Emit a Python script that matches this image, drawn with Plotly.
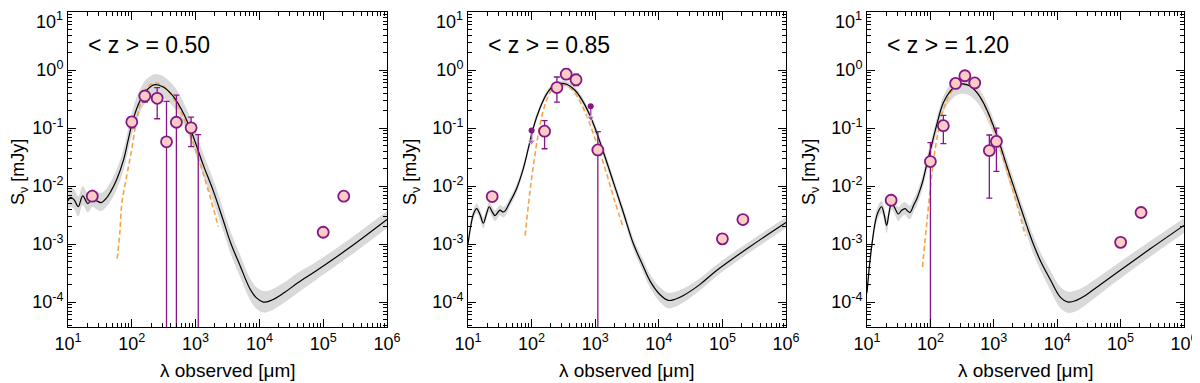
import math
import plotly.graph_objects as go
from plotly.subplots import make_subplots

# ---------------- panel 1 : <z> = 0.50 ----------------
sed1_lam = [10, 11, 12.5, 14.5, 17, 20.5, 24, 28, 33, 40, 46, 58, 74, 88, 106, 135, 171, 230, 310,
            450, 645, 920, 1320, 1900, 2700, 3600, 5000, 7100, 9000, 11500, 15000, 24000, 40000,
            79000, 260000, 1000000]
sed1 = [5.6e-3, 6.4e-3, 5.8e-3, 4.4e-3, 6.8e-3, 5.0e-3, 6.2e-3, 5.6e-3, 5.2e-3, 6.2e-3, 7.8e-3,
        1.3e-2, 2.8e-2, 6.3e-2, 0.147, 0.30, 0.45, 0.56, 0.51, 0.35, 0.18, 0.071, 0.023, 8.2e-3,
        2.6e-3, 1.0e-3, 4.2e-4, 1.7e-4, 1.18e-4, 1.0e-4, 1.06e-4, 1.43e-4, 2.15e-4, 3.5e-4, 8.7e-4,
        2.65e-3]
sed1_hi = [8.5e-3, 9.5e-3, 8.8e-3, 6.6e-3, 1.0e-2, 7.5e-3, 9.0e-3, 8.2e-3, 7.6e-3, 9.0e-3, 1.15e-2,
           1.95e-2, 4.3e-2, 9.6e-2, 0.23, 0.47, 0.70, 0.85, 0.78, 0.54, 0.28, 0.11, 0.036, 1.28e-2,
           4.0e-3, 1.55e-3, 6.5e-4, 2.6e-4, 1.8e-4, 1.55e-4, 1.62e-4, 2.15e-4, 3.2e-4, 5.0e-4,
           1.22e-3, 3.7e-3]
sed1_lo = [3.9e-3, 4.4e-3, 4.0e-3, 3.0e-3, 4.7e-3, 3.5e-3, 4.4e-3, 4.0e-3, 3.7e-3, 4.4e-3, 5.4e-3,
           8.8e-3, 1.85e-2, 4.1e-2, 0.095, 0.19, 0.29, 0.36, 0.33, 0.23, 0.118, 0.046, 0.015, 5.3e-3,
           1.7e-3, 6.5e-4, 2.7e-4, 1.1e-4, 7.7e-5, 6.6e-5, 7.0e-5, 9.6e-5, 1.45e-4, 2.45e-4, 6.2e-4,
           1.9e-3]
mbb1_lam = [59, 65, 70, 83, 99.5, 119, 148, 182, 231, 294, 398, 569, 813, 1172, 1683, 2270]
mbb1 = [5.6e-4, 1.6e-3, 5.1e-3, 0.0148, 0.042, 0.138, 0.35, 0.53, 0.60, 0.55, 0.40, 0.204, 0.081,
        0.025, 6.6e-3, 2.0e-3]
pts1_lam = [24, 100, 160, 250, 350, 500, 850, 1100, 100000, 210000]
pts1_flux = [6.7e-3, 0.128, 0.358, 0.326, 0.058, 0.126, 0.101, 1e-6, 1.6e-3, 6.7e-3]
pts1_up = [6.7e-3, 0.156, 0.43, 0.50, 0.29, 0.37, 0.155, 0.077, 1.6e-3, 6.7e-3]
pts1_dn = [6.7e-3, 0.101, 0.28, 0.145, 0.0, 0.0, 0.048, 0.0, 1.6e-3, 6.7e-3]
ul1_lam = []
ul1_flux = []
ul1_tip = []

# ---------------- panel 2 : <z> = 0.85 ----------------
sed2_lam = [10, 11, 12.3, 13.7, 15.5, 17.4, 19.5, 21.6, 24, 26.6, 31.8, 35, 38, 45.7, 58, 74, 89,
            106, 135, 173, 219, 280, 357, 481, 650, 933, 1340, 1930, 2770, 4000, 5500, 7300, 10400,
            14000, 18000, 24400, 44000, 81000, 270000, 1000000]
sed2 = [1.0e-3, 2.0e-3, 3.4e-3, 4.1e-3, 3.2e-3, 2.3e-3, 3.3e-3, 4.4e-3, 3.6e-3, 3.1e-3, 3.85e-3,
        3.6e-3, 3.7e-3, 5.3e-3, 9.0e-3, 0.020, 0.045, 0.10, 0.22, 0.39, 0.53, 0.59, 0.57, 0.45, 0.28,
        0.12, 0.039, 0.0117, 3.5e-3, 1.0e-3, 4.5e-4, 2.3e-4, 1.35e-4, 1.07e-4, 1.12e-4, 1.3e-4,
        2.0e-4, 3.5e-4, 9.0e-4, 2.35e-3]
sed2_hi = [1.2e-3, 2.5e-3, 4.1e-3, 5.0e-3, 3.9e-3, 2.9e-3, 4.0e-3, 5.3e-3, 4.4e-3, 3.8e-3, 4.7e-3,
           4.4e-3, 4.5e-3, 6.4e-3, 1.08e-2, 0.024, 0.053, 0.117, 0.25, 0.44, 0.59, 0.66, 0.64,
           0.51, 0.32, 0.14, 0.047, 0.0142, 4.3e-3, 1.25e-3, 5.8e-4, 3.0e-4, 1.8e-4, 1.45e-4,
           1.5e-4, 1.72e-4, 2.55e-4, 4.4e-4, 1.12e-3, 2.9e-3]
sed2_lo = [8.0e-4, 1.6e-3, 2.8e-3, 3.4e-3, 2.6e-3, 1.85e-3, 2.7e-3, 3.6e-3, 2.9e-3, 2.5e-3,
           3.15e-3, 2.9e-3, 3.0e-3, 4.4e-3, 7.5e-3, 0.017, 0.038, 0.086, 0.195, 0.35, 0.48, 0.53,
           0.51, 0.40, 0.245, 0.10, 0.032, 9.6e-3, 2.85e-3, 8.0e-4, 3.5e-4, 1.75e-4, 1.0e-4,
           7.8e-5, 8.3e-5, 9.8e-5, 1.58e-4, 2.8e-4, 7.2e-4, 1.9e-3]
mbb2_lam = [79, 89, 100, 117, 135.5, 162, 207, 280, 356, 481, 692, 993, 1430, 2050, 2700]
mbb2 = [1.4e-3, 4.7e-3, 0.0134, 0.045, 0.114, 0.25, 0.45, 0.55, 0.54, 0.40, 0.19, 0.066, 0.020,
        5.3e-3, 2.1e-3]
pts2_lam = [24, 160, 250, 350, 500, 1100, 100000, 210000]
pts2_flux = [6.6e-3, 0.0885, 0.50, 0.85, 0.68, 0.042, 1.23e-3, 2.65e-3]
pts2_up = [6.6e-3, 0.135, 0.76, 1.06, 0.85, 0.087, 1.23e-3, 2.65e-3]
pts2_dn = [6.6e-3, 0.044, 0.28, 0.70, 0.54, 0.0, 1.23e-3, 2.65e-3]
ul2_lam = [100, 850]
ul2_flux = [0.091, 0.238]
ul2_tip = [0.058, 0.150]

# ---------------- panel 3 : <z> = 1.20 ----------------
sed3_lam = [10, 11, 11.9, 13.5, 15, 17, 18.7, 20.4, 22.3, 24.5, 27.5, 31.2, 35, 39.8, 44, 47.7,
            55, 61, 68.5, 77, 87, 104.5, 126, 159, 204, 260, 331, 422, 570, 773, 1110, 1590, 2290,
            3300, 4200, 5600, 7700, 11100, 15000, 20000, 25800, 45000, 87000, 290000, 1000000]
sed3 = [1.45e-4, 4.5e-4, 9.4e-4, 2.4e-3, 3.6e-3, 4.4e-3, 3.2e-3, 2.1e-3, 3.5e-3, 5.2e-3, 4.2e-3,
        3.3e-3, 3.8e-3, 4.1e-3, 3.7e-3, 3.5e-3, 4.8e-3, 6.0e-3, 8.5e-3, 1.3e-2, 2.3e-2, 0.051, 0.115,
        0.27, 0.43, 0.55, 0.58, 0.53, 0.38, 0.21, 0.077, 0.023, 6.9e-3, 2.1e-3, 1.0e-3, 4.8e-4,
        2.5e-4, 1.23e-4, 1.0e-4, 1.07e-4, 1.23e-4, 1.9e-4, 3.2e-4, 8.2e-4, 2.1e-3]
sed3_hi = [1.9e-4, 5.8e-4, 1.2e-3, 3.1e-3, 4.6e-3, 5.6e-3, 4.2e-3, 2.8e-3, 4.5e-3, 6.6e-3, 5.4e-3,
           4.3e-3, 4.9e-3, 5.3e-3, 4.8e-3, 4.6e-3, 6.2e-3, 7.8e-3, 1.1e-2, 1.7e-2, 3.0e-2, 0.066,
           0.15, 0.35, 0.56, 0.72, 0.76, 0.70, 0.50, 0.28, 0.10, 0.031, 9.3e-3, 2.9e-3, 1.4e-3,
           6.8e-4, 3.6e-4, 1.85e-4, 1.5e-4, 1.6e-4, 1.8e-4, 2.7e-4, 4.5e-4, 1.12e-3, 2.8e-3]
sed3_lo = [1.1e-4, 3.5e-4, 7.3e-4, 1.85e-3, 2.8e-3, 3.4e-3, 2.4e-3, 1.55e-3, 2.7e-3, 4.0e-3, 3.2e-3,
           2.5e-3, 2.9e-3, 3.2e-3, 2.8e-3, 2.7e-3, 3.7e-3, 4.6e-3, 6.5e-3, 9.8e-3, 1.7e-2, 0.037,
           0.082, 0.19, 0.29, 0.37, 0.39, 0.36, 0.26, 0.145, 0.054, 0.016, 4.8e-3, 1.45e-3, 6.8e-4,
           3.3e-4, 1.65e-4, 8.0e-5, 6.5e-5, 7.0e-5, 8.3e-5, 1.32e-4, 2.3e-4, 6.0e-4, 1.55e-3]
mbb3_lam = [75, 87, 98.6, 111, 133, 170, 229, 331, 477, 685, 985, 1415, 2030, 3150]
mbb3 = [4.0e-4, 2.1e-3, 8.0e-3, 0.026, 0.087, 0.25, 0.46, 0.56, 0.49, 0.27, 0.10, 0.030, 8.0e-3,
        1.4e-3]
pts3_lam = [24, 100, 160, 250, 350, 500, 850, 1100, 100000, 210000]
pts3_flux = [5.7e-3, 0.0265, 0.11, 0.59, 0.80, 0.60, 0.041, 0.059, 1.07e-3, 3.5e-3]
pts3_up = [5.7e-3, 0.056, 0.166, 0.68, 0.92, 0.69, 0.076, 0.10, 1.07e-3, 3.5e-3]
pts3_dn = [5.7e-3, 0.0, 0.054, 0.52, 0.71, 0.52, 0.0062, 0.018, 1.07e-3, 3.5e-3]
ul3_lam = []
ul3_flux = []
ul3_tip = []

z_labels = ["0.50", "0.85", "1.20"]

x_ticks = [1e1, 1e2, 1e3, 1e4, 1e5, 1e6]
x_ticktext = ["10<sup>%d</sup>" % n for n in range(1, 7)]
y_ticks = [1e-4, 1e-3, 1e-2, 1e-1, 1e0, 1e1]
# the top label (10^1) is written separately, nudged down so it stays inside the page
y_ticktext = ["10<sup>%d</sup>" % n for n in range(-4, 1)] + [""]
y_top_label = "10<sup>1</sup>"

PURPLE = "#861686"
PINK = "#fbcdc4"
GREY = "#d9d9d9"
ORANGE = "#f6a348"
ARROW = "#a94db2"
FONT = "Liberation Sans, Arial, sans-serif"

panels = [
    (sed1_lam, sed1, sed1_hi, sed1_lo, mbb1_lam, mbb1, pts1_lam, pts1_flux, pts1_up, pts1_dn, ul1_lam, ul1_flux, ul1_tip),
    (sed2_lam, sed2, sed2_hi, sed2_lo, mbb2_lam, mbb2, pts2_lam, pts2_flux, pts2_up, pts2_dn, ul2_lam, ul2_flux, ul2_tip),
    (sed3_lam, sed3, sed3_hi, sed3_lo, mbb3_lam, mbb3, pts3_lam, pts3_flux, pts3_up, pts3_dn, ul3_lam, ul3_flux, ul3_tip),
]

W, H = 1200, 383
# page is drawn with an 8px body margin, so place things 8px up/left
left_px = [60, 460, 859]
right_px = [379, 778, 1176]
x_domains = [[l / W, r / W] for l, r in zip(left_px, right_px)]
y_domain = [1 - 319 / H, 1 - 4 / H]

minor_x = [k * 10 ** n for n in range(1, 6) for k in range(2, 10)]
minor_y = [k * 10 ** n for n in range(-5, 1) for k in range(2, 10)]

fig = make_subplots(rows=1, cols=3)

for i, (lam, sed, hi, lo, mlam, mbb, plam, pflux, pup, pdn, ulam, uflux, utip) in enumerate(panels):
    col = i + 1
    # uncertainty band
    fig.add_trace(go.Scatter(x=lam, y=lo, mode="lines", line=dict(width=0, shape="spline"),
                             hoverinfo="skip", showlegend=False), row=1, col=col)
    fig.add_trace(go.Scatter(x=lam, y=hi, mode="lines", line=dict(width=0, shape="spline"),
                             fill="tonexty", fillcolor=GREY, hoverinfo="skip", showlegend=False),
                  row=1, col=col)
    # modified black body fit
    fig.add_trace(go.Scatter(x=mlam, y=mbb, mode="lines",
                             line=dict(color=ORANGE, width=1.6, dash="5px,3px", shape="spline"),
                             showlegend=False), row=1, col=col)
    # best-fit SED
    fig.add_trace(go.Scatter(x=lam, y=sed, mode="lines",
                             line=dict(color="black", width=1.2, shape="spline"),
                             showlegend=False), row=1, col=col)
    # upper limits: dot with a short arrow down
    for xl, yl, yt in zip(ulam, uflux, utip):
        fig.add_trace(go.Scatter(x=[xl, xl], y=[yl, yt], mode="lines+markers",
                                 line=dict(color=ARROW, width=1.5),
                                 marker=dict(symbol=["circle", "triangle-down"], size=[1, 7],
                                             color=ARROW),
                                 showlegend=False), row=1, col=col)
    if ulam:
        fig.add_trace(go.Scatter(x=ulam, y=uflux, mode="markers",
                                 marker=dict(size=6, color=PURPLE), showlegend=False),
                      row=1, col=col)
    # stacked photometry
    err_p = [u - f for u, f in zip(pup, pflux)]
    err_m = [f - d for f, d in zip(pflux, pdn)]
    fig.add_trace(go.Scatter(x=plam, y=pflux, mode="markers",
                             marker=dict(size=11, color=PINK, line=dict(color=PURPLE, width=1.8)),
                             error_y=dict(type="data", symmetric=False, array=err_p, arrayminus=err_m,
                                          color=PURPLE, thickness=1.3, width=3),
                             showlegend=False), row=1, col=col)

    fig.update_xaxes(type="log", range=[1, 6], domain=x_domains[i], tickmode="array",
                     tickvals=x_ticks, ticktext=x_ticktext, row=1, col=col)
    fig.update_yaxes(type="log", range=[-4.43, 1.002], domain=y_domain, tickmode="array",
                     tickvals=y_ticks, ticktext=y_ticktext, row=1, col=col)

    xl_px = left_px[i]
    xc_px = (left_px[i] + right_px[i]) / 2
    fig.add_annotation(x=(xl_px - 3) / W, y=1 - 12 / H, xref="paper", yref="paper",
                       xanchor="right", yanchor="middle", showarrow=False,
                       text=y_top_label, font=dict(size=18, color="black", family=FONT))
    fig.add_annotation(x=(xl_px + 18) / W, y=1 - 37 / H, xref="paper", yref="paper",
                       xanchor="left", yanchor="middle", showarrow=False,
                       text="&lt; z &gt; = " + z_labels[i], font=dict(size=23, color="black", family=FONT))
    fig.add_annotation(x=xc_px / W, y=1 - 362 / H, xref="paper", yref="paper",
                       xanchor="center", yanchor="middle", showarrow=False,
                       text="λ observed [μm]", font=dict(size=19, color="black", family=FONT))
    fig.add_annotation(x=max(xl_px - 56, 12) / W, y=1 - 164 / H, xref="paper", yref="paper",
                       xanchor="center", yanchor="middle", showarrow=False, textangle=-90,
                       text="S<sub>ν</sub> [mJy]", font=dict(size=18, color="black", family=FONT))

axis_style = dict(showline=True, linecolor="black", linewidth=1, mirror="ticks", ticks="inside",
                  ticklen=8, tickwidth=1, tickcolor="black", showgrid=False, zeroline=False,
                  automargin=False, ticklabeloverflow="allow",
                  tickfont=dict(size=18, color="black", family=FONT))
fig.update_xaxes(**axis_style, minor=dict(tickmode="array", tickvals=minor_x, ticks="inside",
                                          ticklen=4, tickcolor="black", showgrid=False))
fig.update_yaxes(**axis_style, minor=dict(tickmode="array", tickvals=minor_y, ticks="inside",
                                          ticklen=4, tickcolor="black", showgrid=False))

fig.update_layout(width=W, height=H, margin=dict(l=0, r=0, t=0, b=0, autoexpand=False),
                  plot_bgcolor="white", paper_bgcolor="white",
                  font=dict(family=FONT, color="black"))

fig.write_html("out.html")
